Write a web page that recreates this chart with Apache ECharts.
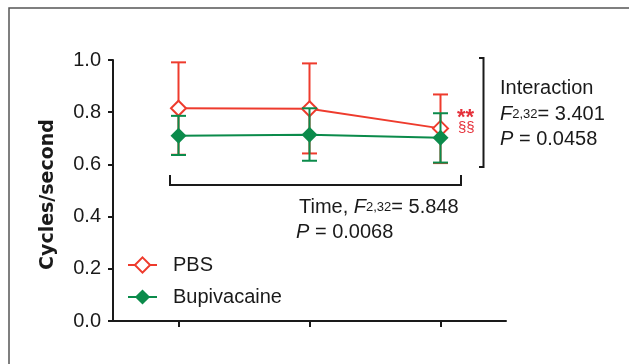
<!DOCTYPE html>
<html>
<head>
<meta charset="utf-8">
<script src="https://cdn.jsdelivr.net/npm/echarts@6/dist/echarts.min.js"></script>
<style>
  html, body { margin: 0; padding: 0; background: #fff; }
  #chart { width: 629px; height: 364px; }
</style>
</head>
<body>
<div id="chart"></div>
<script>
  // time points (x labels are not shown in the figure)
  const categories = ['T1', 'T2', 'T3']
  const pbsMean = [0.815, 0.813, 0.738]
  const pbsLow = [0.637, 0.642, 0.605]
  const pbsHigh = [0.991, 0.987, 0.868]
  const bupMean = [0.710, 0.714, 0.702]
  const bupLow = [0.636, 0.614, 0.607]
  const bupHigh = [0.786, 0.815, 0.796]
  const yTicks = { min: 0, max: 1, interval: 0.2 }

  const RED = '#ee3b2d'
  const GREEN = '#0b8b4b'
  const INK = '#1a1a1a'
  const FONT = 'Liberation Sans'

  const errorBar = (color) => (params, api) => {
    const x = api.value(0)
    const top = api.coord([x, api.value(2)])
    const bot = api.coord([x, api.value(1)])
    const hw = 7.5
    const style = { stroke: color, lineWidth: 2, fill: null }
    return {
      type: 'group',
      children: [
        { type: 'line', shape: { x1: top[0], y1: top[1], x2: bot[0], y2: bot[1] }, style },
        { type: 'line', shape: { x1: top[0] - hw, y1: top[1], x2: top[0] + hw, y2: top[1] }, style },
        { type: 'line', shape: { x1: bot[0] - hw, y1: bot[1], x2: bot[0] + hw, y2: bot[1] }, style }
      ]
    }
  }

  const rich = {
    n: { fontSize: 20, fontFamily: FONT, fill: INK },
    i: { fontSize: 20, fontFamily: FONT, fontStyle: 'italic', fill: INK },
    s: { fontSize: 13, fontFamily: FONT, fill: INK }
  }
  const label = (x, y, text) => ({
    type: 'text', x, y, silent: true,
    style: { text, rich, align: 'left', verticalAlign: 'middle' }
  })

  const option = {
    animation: false,
    backgroundColor: '#fff',
    grid: { left: 113, top: 60, right: 123, bottom: 43, outerBoundsMode: 'none' },
    legend: {
      data: ['PBS', 'Bupivacaine'],
      orient: 'vertical',
      left: 122,
      top: 250,
      itemWidth: 29,
      itemHeight: 19,
      itemGap: 12,
      selectedMode: false,
      textStyle: { fontSize: 20, fontFamily: FONT, color: INK, padding: [0, 0, 0, 11], lineHeight: 19 }
    },
    xAxis: {
      type: 'category',
      data: categories,
      boundaryGap: true,
      axisLine: { show: true, lineStyle: { color: INK, width: 2 } },
      axisTick: { show: true, alignWithLabel: true, length: 6, lineStyle: { color: INK, width: 2 } },
      axisLabel: { show: false },
      splitLine: { show: false }
    },
    yAxis: {
      type: 'value',
      min: yTicks.min,
      max: yTicks.max,
      interval: yTicks.interval,
      name: 'Cycles/second',
      nameLocation: 'middle',
      nameGap: 55,
      nameTextStyle: { fontSize: 19, fontWeight: 'bold', fontFamily: 'DejaVu Sans', color: INK, padding: [0, 8, 0, 0] },
      axisLine: { show: true, lineStyle: { color: INK, width: 2 } },
      axisTick: { show: true, length: 5, lineStyle: { color: INK, width: 2 } },
      axisLabel: { fontSize: 20, fontFamily: FONT, color: INK, margin: 12, formatter: (v) => v.toFixed(1) },
      splitLine: { show: false }
    },
    series: [
      {
        name: 'PBS SD',
        type: 'custom',
        z: 2,
        silent: true,
        renderItem: errorBar(RED),
        encode: { x: 0, y: [1, 2] },
        data: categories.map((c, i) => [i, pbsLow[i], pbsHigh[i]])
      },
      {
        name: 'PBS',
        type: 'line',
        z: 3,
        data: pbsMean,
        symbol: 'emptyDiamond',
        symbolSize: 15,
        lineStyle: { color: RED, width: 2 },
        itemStyle: { color: RED, borderColor: RED, borderWidth: 2 }
      },
      {
        name: 'Bupivacaine SD',
        type: 'custom',
        z: 4,
        silent: true,
        renderItem: errorBar(GREEN),
        encode: { x: 0, y: [1, 2] },
        data: categories.map((c, i) => [i, bupLow[i], bupHigh[i]])
      },
      {
        name: 'Bupivacaine',
        type: 'line',
        z: 5,
        data: bupMean,
        symbol: 'diamond',
        symbolSize: 16,
        lineStyle: { color: GREEN, width: 2 },
        itemStyle: { color: GREEN }
      }
    ],
    graphic: [
      // outer frame
      { type: 'rect', silent: true, z: -10, shape: { x: 9, y: 8, width: 660, height: 400 },
        style: { fill: null, stroke: '#555', lineWidth: 1.5 } },
      // time bracket
      { type: 'polyline', silent: true, shape: { points: [[170, 175], [170, 185], [461, 185], [461, 175]] },
        style: { fill: null, stroke: INK, lineWidth: 2 } },
      // interaction bracket
      { type: 'polyline', silent: true, shape: { points: [[479, 58], [483.5, 58], [483.5, 167], [479, 167]] },
        style: { fill: null, stroke: INK, lineWidth: 2 } },
      { type: 'text', x: 457, y: 118, silent: true,
        style: { text: '**', fontSize: 22, fontWeight: 'bold', fontFamily: FONT, fill: '#e5303a', verticalAlign: 'middle' } },
      { type: 'text', x: 458, y: 128, silent: true,
        style: { text: '§§', fontSize: 15, fontFamily: FONT, fill: '#e5303a', verticalAlign: 'middle' } },
      label(500, 88.5, '{n|Interaction}'),
      label(500, 114.5, '{i|F}{s|2,32}{n|= 3.401}'),
      label(500, 139, '{i|P}{n| = 0.0458}'),
      label(299, 207, '{n|Time, }{i|F}{s|2,32}{n|= 5.848}'),
      label(296, 232.5, '{i|P}{n| = 0.0068}')
    ]
  }

  const chart = echarts.init(document.getElementById('chart'))
  chart.setOption(option)
</script>
</body>
</html>
